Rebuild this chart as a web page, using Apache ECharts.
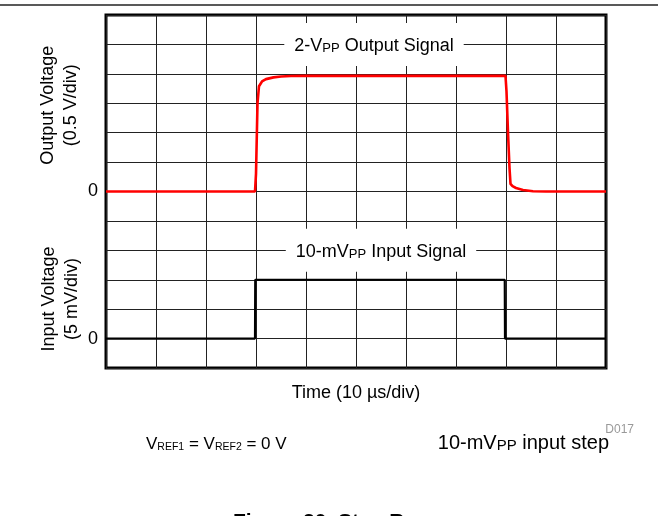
<!DOCTYPE html>
<html>
<head>
<meta charset="utf-8">
<script src="https://cdn.jsdelivr.net/npm/echarts@6/dist/echarts.min.js"></script>
<style>
html,body{margin:0;padding:0;background:#fff;}
#c{width:658px;height:516px;}
</style>
</head>
<body>
<div id="c"></div>
<script>
// Time in microseconds (10 µs/div), output in volts (0.5 V/div), input in mV (5 mV/div)
const outTime = [0, 29.8, 30.0, 30.3, 30.6, 31.2, 32, 33.5, 35, 37, 40, 79.9, 80.1, 80.4, 80.7, 80.9, 81.3, 82, 83.4, 85.4, 88, 100];
const outVolt = [0, 0, 0.3, 1.5, 1.79, 1.87, 1.91, 1.94, 1.955, 1.962, 1.965, 1.965, 1.7, 1.0, 0.4, 0.13, 0.09, 0.06, 0.025, 0.005, 0, 0];
const inTime = [0, 29.8, 29.85, 79.75, 79.8, 100];
const inMilliVolt = [0, 0, 10, 10, 0, 0];
const zeroLabels = ['0'];

const FONT = '"Liberation Sans", Arial, Helvetica, sans-serif';

const chart = echarts.init(document.getElementById('c'), null, {renderer: 'canvas'});

const option = {
  animation: false,
  backgroundColor: '#fff',
  grid: {left: 106, right: 52, top: 15, bottom: 148, show: true, borderColor: '#000', borderWidth: 3, backgroundColor: 'transparent'},
  xAxis: {
    type: 'value', min: 0, max: 100, interval: 10,
    axisLine: {show: false}, axisTick: {show: false}, axisLabel: {show: false},
    splitLine: {show: true, lineStyle: {color: '#222', width: 1}},
    name: 'Time (10 µs/div)', nameLocation: 'middle', nameGap: 16,
    nameTextStyle: {fontFamily: FONT, fontSize: 18, color: '#000', verticalAlign: 'top'}
  },
  yAxis: [
    {
      type: 'value', min: -3, max: 3, interval: 0.5, position: 'left',
      axisLine: {show: false}, axisTick: {show: false},
      axisLabel: {margin: 8, fontFamily: FONT, fontSize: 18, color: '#000',
        formatter: v => (Math.abs(v) < 1e-9 ? zeroLabels[0] : '')},
      splitLine: {show: true, lineStyle: {color: '#222', width: 1}}
    },
    {
      type: 'value', min: -5, max: 55, interval: 5, position: 'left', offset: 0,
      axisLine: {show: false}, axisTick: {show: false},
      axisLabel: {margin: 8, fontFamily: FONT, fontSize: 18, color: '#000',
        formatter: v => (Math.abs(v) < 1e-9 ? zeroLabels[0] : '')},
      splitLine: {show: false}
    }
  ],
  series: [
    {
      type: 'line', yAxisIndex: 0, showSymbol: false, clip: false,
      data: outTime.map((t, i) => [t, outVolt[i]]),
      lineStyle: {color: '#ff0000', width: 2.6}, z: 5
    },
    {
      type: 'line', yAxisIndex: 1, showSymbol: false, clip: false,
      data: inTime.map((t, i) => [t, inMilliVolt[i]]),
      lineStyle: {color: '#000', width: 2.2}, z: 4
    }
  ]
};
chart.setOption(option);

const pOut = chart.convertToPixel({seriesIndex: 0}, [53.6, 2.5]);
const pIn = chart.convertToPixel({seriesIndex: 1}, [55, 15]);

const mainRich = {
  a: {fontFamily: FONT, fontSize: 18, color: '#000', lineHeight: 20, verticalAlign: 'bottom'},
  b: {fontFamily: FONT, fontSize: 13, color: '#000', lineHeight: 13, verticalAlign: 'bottom'}
};
const leftRich = {
  a: {fontFamily: FONT, fontSize: 17, color: '#000', lineHeight: 20, verticalAlign: 'bottom'},
  b: {fontFamily: FONT, fontSize: 10.5, color: '#000', lineHeight: 12, verticalAlign: 'bottom'}
};
const wideRich = {
  a: {fontFamily: FONT, fontSize: 20, color: '#000', lineHeight: 22, verticalAlign: 'bottom'},
  b: {fontFamily: FONT, fontSize: 15, color: '#000', lineHeight: 15, verticalAlign: 'bottom'}
};

chart.setOption({
  graphic: [
    {type: 'line', shape: {x1: 0, y1: 5, x2: 658, y2: 5}, style: {stroke: '#222', lineWidth: 1.4}, z: 100},
    {type: 'text', x: pOut[0], y: pOut[1], z: 100,
      style: {text: '{a|2-V}{b|PP}{a| Output Signal}', rich: mainRich, align: 'center', verticalAlign: 'middle',
        backgroundColor: '#fff', padding: [12, 10, 11, 10]}},
    {type: 'text', x: pIn[0], y: pIn[1], z: 100,
      style: {text: '{a|10-mV}{b|PP}{a| Input Signal}', rich: mainRich, align: 'center', verticalAlign: 'middle',
        backgroundColor: '#fff', padding: [12, 10, 11, 10]}},
    {type: 'text', x: 60, y: (15 + 191.5) / 2 + 2, rotation: Math.PI / 2, z: 100,
      style: {text: 'Output Voltage\n(0.5 V/div)', font: '18px ' + FONT, fill: '#000', align: 'center', verticalAlign: 'middle', lineHeight: 23}},
    {type: 'text', x: 61, y: 299, rotation: Math.PI / 2, z: 100,
      style: {text: 'Input Voltage\n(5 mV/div)', font: '18px ' + FONT, fill: '#000', align: 'center', verticalAlign: 'middle', lineHeight: 23}},
    {type: 'text', x: 634, y: 430, z: 100,
      style: {text: 'D017', font: '12px ' + FONT, fill: '#999', align: 'right', verticalAlign: 'middle'}},
    {type: 'text', x: 146, y: 443, z: 100,
      style: {text: '{a|V}{b|REF1}{a| = V}{b|REF2}{a| = 0 V}', rich: leftRich, align: 'left', verticalAlign: 'middle'}},
    {type: 'text', x: 609, y: 442, z: 100,
      style: {text: '{a|10-mV}{b|PP}{a| input step}', rich: wideRich, align: 'right', verticalAlign: 'middle'}},
    {type: 'text', x: 233, y: 512, z: 100,
      style: {text: 'Figure 20. Step Response', font: 'bold 21px ' + FONT, fill: '#000', align: 'left', verticalAlign: 'top'}}
  ]
});
</script>
</body>
</html>
